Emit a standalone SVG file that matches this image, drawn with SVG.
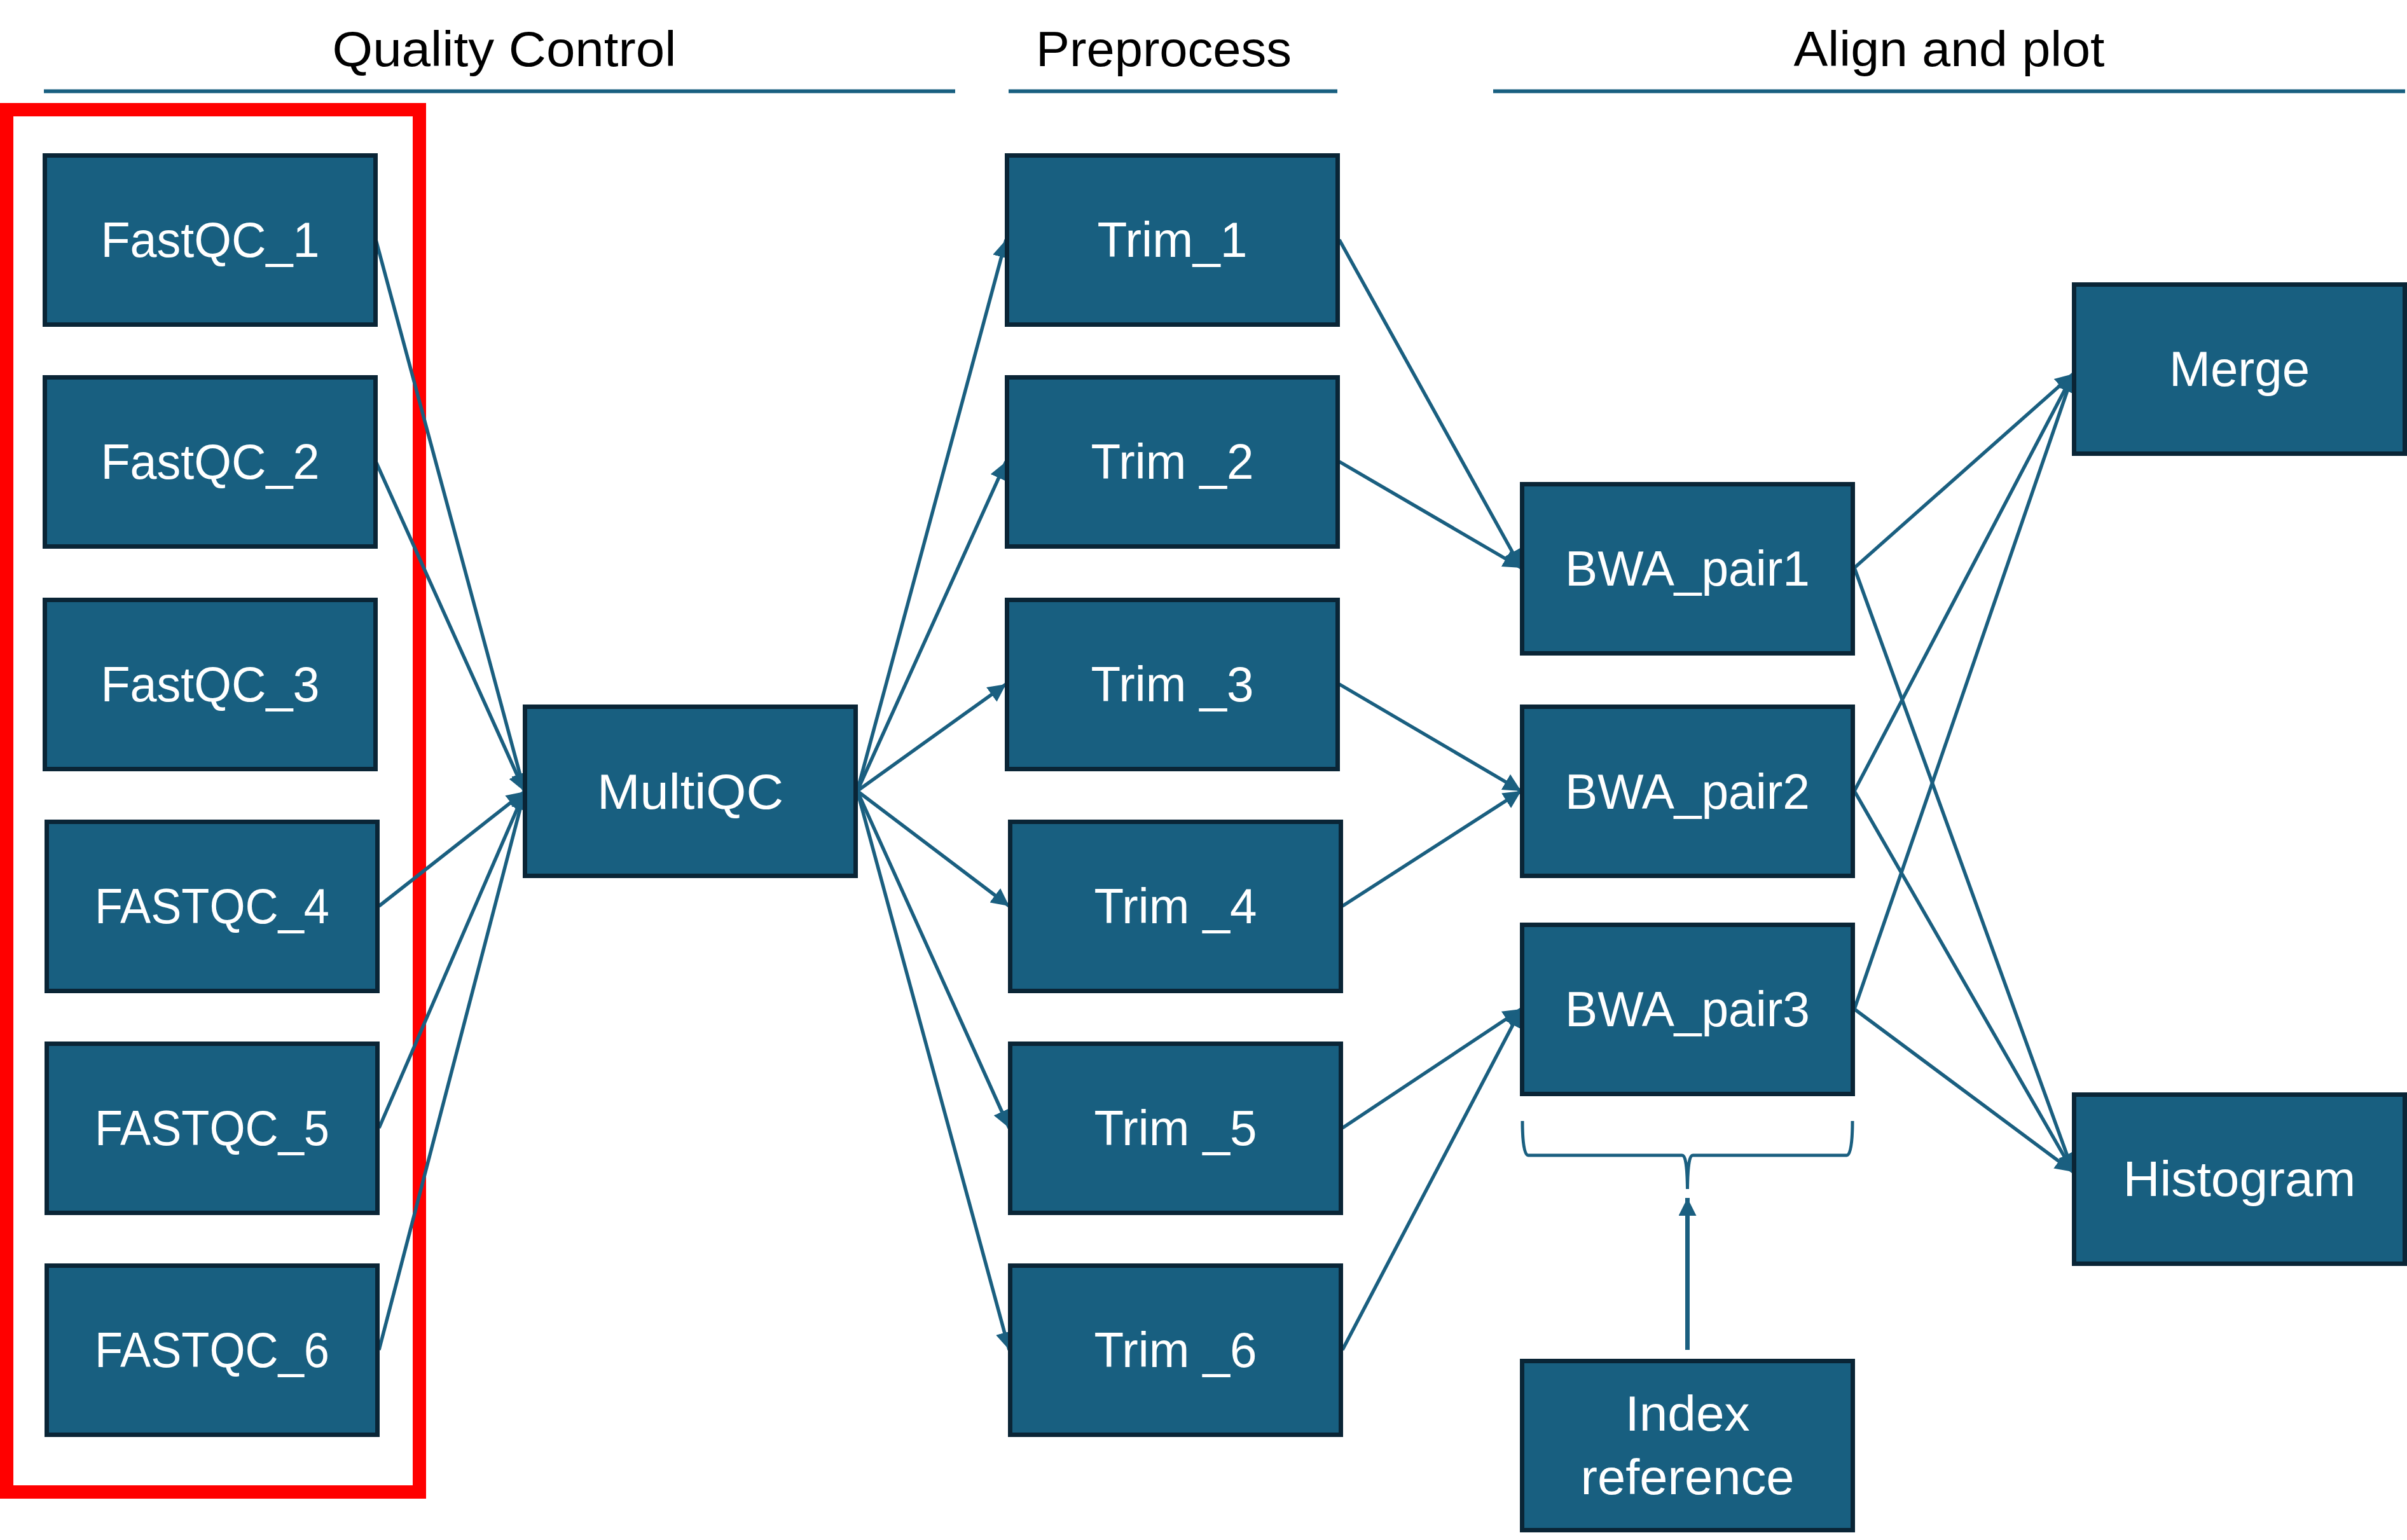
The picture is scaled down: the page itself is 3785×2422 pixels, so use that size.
<svg xmlns="http://www.w3.org/2000/svg" width="3785" height="2422" viewBox="0 0 3785 2422">
<style>
.node rect{fill:#185F80;stroke:#0A2536;stroke-width:7}
.node text{fill:#FFFFFF;font-family:"Liberation Sans",Arial,sans-serif;font-size:78px;text-anchor:middle}
.hdr{fill:#000000;font-family:"Liberation Sans",Arial,sans-serif;font-size:78px;text-anchor:middle}
.hline{stroke:#185F80;stroke-width:6}
.conn line{stroke:#1A5F80;stroke-width:5.5;marker-end:url(#arr)}
</style>
<defs>
<marker id="arr" markerUnits="userSpaceOnUse" markerWidth="30" markerHeight="28" refX="28" refY="14" orient="auto">
<path d="M0,0 L28,14 L0,28 z" fill="#1A5F80"/>
</marker>
</defs>
<rect width="3785" height="2422" fill="#FFFFFF"/>
<g id="headers">
<text class="hdr" x="793" y="104" textLength="541" lengthAdjust="spacingAndGlyphs">Quality Control</text>
<line class="hline" x1="69" y1="143.5" x2="1502" y2="143.5"/>
<text class="hdr" x="1830" y="104" textLength="402" lengthAdjust="spacingAndGlyphs">Preprocess</text>
<line class="hline" x1="1586" y1="143.5" x2="2103" y2="143.5"/>
<text class="hdr" x="3065" y="104" textLength="489" lengthAdjust="spacingAndGlyphs">Align and plot</text>
<line class="hline" x1="2348" y1="143.5" x2="3782" y2="143.5"/>
</g>
<rect id="highlight" x="10.5" y="172.5" width="649" height="2174" fill="none" stroke="#FF0000" stroke-width="21"/>
<g id="connectors" class="conn">
<line x1="591" y1="377" x2="825" y2="1245"/>
<line x1="591" y1="726" x2="825" y2="1245"/>
<line x1="596" y1="1425" x2="825" y2="1245"/>
<line x1="596" y1="1774" x2="825" y2="1245"/>
<line x1="596" y1="2123" x2="825" y2="1245"/>
<line x1="1348" y1="1244" x2="1582" y2="377"/>
<line x1="1348" y1="1244" x2="1582" y2="726"/>
<line x1="1348" y1="1244" x2="1582" y2="1076"/>
<line x1="1348" y1="1244" x2="1587" y2="1425"/>
<line x1="1348" y1="1244" x2="1587" y2="1774"/>
<line x1="1348" y1="1244" x2="1587" y2="2123"/>
<line x1="2106" y1="377" x2="2392" y2="893"/>
<line x1="2106" y1="726" x2="2392" y2="893"/>
<line x1="2106" y1="1076" x2="2392" y2="1244"/>
<line x1="2111" y1="1425" x2="2392" y2="1244"/>
<line x1="2111" y1="1774" x2="2392" y2="1587"/>
<line x1="2111" y1="2123" x2="2392" y2="1587"/>
<line x1="2916" y1="893" x2="3260" y2="588"/>
<line x1="2916" y1="893" x2="3260" y2="1843"/>
<line x1="2916" y1="1244" x2="3260" y2="588"/>
<line x1="2916" y1="1244" x2="3260" y2="1843"/>
<line x1="2916" y1="1587" x2="3260" y2="588"/>
<line x1="2916" y1="1587" x2="3260" y2="1843"/>
<line x1="2653.5" y1="2123" x2="2653.5" y2="1884" style="stroke-width:7"/>
<path d="M2394,1763 C2394,1790 2396,1817 2403,1817 L2645,1817 C2650,1817 2653,1830 2653.5,1870 C2654,1830 2657,1817 2662,1817 L2904,1817 C2911,1817 2913,1790 2913,1763" fill="none" stroke="#1A5F80" stroke-width="5"/>
</g>
<g id="FastQC_1" class="node"><rect x="70.5" y="244.5" width="520" height="266"/><text x="330.5" y="404" textLength="344" lengthAdjust="spacingAndGlyphs">FastQC_1</text></g>
<g id="FastQC_2" class="node"><rect x="70.5" y="593.5" width="520" height="266"/><text x="330.5" y="753" textLength="344" lengthAdjust="spacingAndGlyphs">FastQC_2</text></g>
<g id="FastQC_3" class="node"><rect x="70.5" y="943.5" width="520" height="266"/><text x="330.5" y="1103" textLength="344" lengthAdjust="spacingAndGlyphs">FastQC_3</text></g>
<g id="FASTQC_4" class="node"><rect x="73.5" y="1292.5" width="520" height="266"/><text x="333.5" y="1452" textLength="369" lengthAdjust="spacingAndGlyphs">FASTQC_4</text></g>
<g id="FASTQC_5" class="node"><rect x="73.5" y="1641.5" width="520" height="266"/><text x="333.5" y="1801" textLength="369" lengthAdjust="spacingAndGlyphs">FASTQC_5</text></g>
<g id="FASTQC_6" class="node"><rect x="73.5" y="1990.5" width="520" height="266"/><text x="333.5" y="2150" textLength="369" lengthAdjust="spacingAndGlyphs">FASTQC_6</text></g>
<g id="MultiQC" class="node"><rect x="825.5" y="1111.5" width="520" height="266"/><text x="1085.5" y="1272" textLength="293" lengthAdjust="spacingAndGlyphs">MultiQC</text></g>
<g id="Trim_1" class="node"><rect x="1583.5" y="244.5" width="520" height="266"/><text x="1843.5" y="404" textLength="236" lengthAdjust="spacingAndGlyphs">Trim_1</text></g>
<g id="Trim_2" class="node"><rect x="1583.5" y="593.5" width="520" height="266"/><text x="1843.5" y="753" textLength="256" lengthAdjust="spacingAndGlyphs">Trim _2</text></g>
<g id="Trim_3" class="node"><rect x="1583.5" y="943.5" width="520" height="266"/><text x="1843.5" y="1103" textLength="256" lengthAdjust="spacingAndGlyphs">Trim _3</text></g>
<g id="Trim_4" class="node"><rect x="1588.5" y="1292.5" width="520" height="266"/><text x="1848.5" y="1452" textLength="256" lengthAdjust="spacingAndGlyphs">Trim _4</text></g>
<g id="Trim_5" class="node"><rect x="1588.5" y="1641.5" width="520" height="266"/><text x="1848.5" y="1801" textLength="256" lengthAdjust="spacingAndGlyphs">Trim _5</text></g>
<g id="Trim_6" class="node"><rect x="1588.5" y="1990.5" width="520" height="266"/><text x="1848.5" y="2150" textLength="256" lengthAdjust="spacingAndGlyphs">Trim _6</text></g>
<g id="BWA_pair1" class="node"><rect x="2393.5" y="761.5" width="520" height="266"/><text x="2653.5" y="921" textLength="385" lengthAdjust="spacingAndGlyphs">BWA_pair1</text></g>
<g id="BWA_pair2" class="node"><rect x="2393.5" y="1111.5" width="520" height="266"/><text x="2653.5" y="1272" textLength="385" lengthAdjust="spacingAndGlyphs">BWA_pair2</text></g>
<g id="BWA_pair3" class="node"><rect x="2393.5" y="1454.5" width="520" height="266"/><text x="2653.5" y="1614" textLength="385" lengthAdjust="spacingAndGlyphs">BWA_pair3</text></g>
<g id="Merge" class="node"><rect x="3261.5" y="447.5" width="520" height="266"/><text x="3521.5" y="607" textLength="221" lengthAdjust="spacingAndGlyphs">Merge</text></g>
<g id="Histogram" class="node"><rect x="3261.5" y="1721.5" width="520" height="266"/><text x="3521.5" y="1881" textLength="366" lengthAdjust="spacingAndGlyphs">Histogram</text></g>
<g id="Index_reference" class="node"><rect x="2393.5" y="2140.5" width="520" height="266"/><text x="2653.5" y="2250" textLength="196" lengthAdjust="spacingAndGlyphs">Index</text><text x="2653.5" y="2350" textLength="336" lengthAdjust="spacingAndGlyphs">reference</text></g>
</svg>
